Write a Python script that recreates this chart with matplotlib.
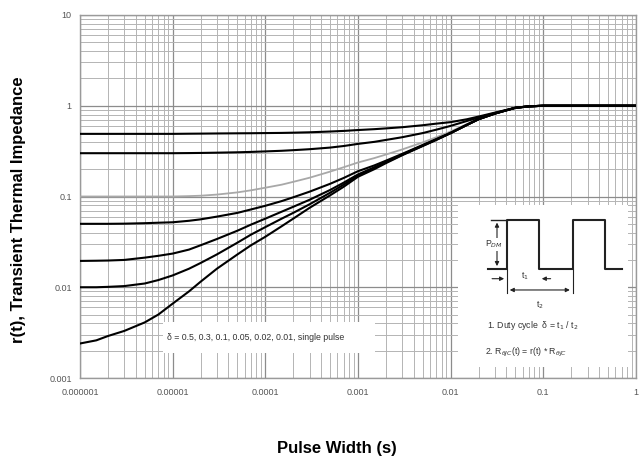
import matplotlib.pyplot as plt
import numpy as np
from matplotlib.patches import Rectangle

plt.rcParams['font.family'] = ['Liberation Sans', 'DejaVu Sans']

# pulse width (s)
t = [1e-6, 1.5e-6, 2e-6, 3e-6, 5e-6, 7e-6,
     1e-5, 1.5e-5, 2e-5, 3e-5, 5e-5, 7e-5,
     1e-4, 1.5e-4, 2e-4, 3e-4, 5e-4, 7e-4,
     1e-3, 1.5e-3, 2e-3, 3e-3, 5e-3, 7e-3,
     1e-2, 1.5e-2, 2e-2, 3e-2, 5e-2, 7e-2,
     0.1, 0.2, 0.5, 1.0]

# normalised transient thermal impedance r(t) for each duty cycle
r_d05 = [0.49, 0.49, 0.49, 0.49, 0.49, 0.49,
         0.49, 0.492, 0.493, 0.495, 0.497, 0.498,
         0.50, 0.502, 0.505, 0.51, 0.52, 0.528,
         0.54, 0.552, 0.563, 0.58, 0.61, 0.635,
         0.66, 0.71, 0.76, 0.84, 0.95, 0.985,
         1.0, 1.0, 1.0, 1.0]
r_d03 = [0.30, 0.30, 0.30, 0.30, 0.30, 0.30,
         0.30, 0.301, 0.302, 0.304, 0.307, 0.31,
         0.314, 0.319, 0.324, 0.332, 0.346, 0.36,
         0.38, 0.40, 0.42, 0.45, 0.50, 0.545,
         0.60, 0.68, 0.74, 0.83, 0.95, 0.985,
         1.0, 1.0, 1.0, 1.0]
r_d01 = [0.10, 0.10, 0.10, 0.10, 0.10, 0.10,
         0.100, 0.101, 0.102, 0.105, 0.111, 0.117,
         0.125, 0.135, 0.145, 0.161, 0.188, 0.21,
         0.237, 0.265, 0.29, 0.33, 0.395, 0.45,
         0.52, 0.63, 0.72, 0.82, 0.95, 0.985,
         1.0, 1.0, 1.0, 1.0]
r_d005 = [0.050, 0.050, 0.050, 0.0502, 0.0508, 0.0514,
          0.052, 0.054, 0.056, 0.060, 0.066, 0.072,
          0.079, 0.089, 0.098, 0.113, 0.138, 0.16,
          0.19, 0.22, 0.248, 0.295, 0.37, 0.43,
          0.505, 0.62, 0.715, 0.82, 0.95, 0.985,
          1.0, 1.0, 1.0, 1.0]
r_d002 = [0.0195, 0.0196, 0.0197, 0.020, 0.0212, 0.0222,
          0.0235, 0.026, 0.029, 0.034, 0.042, 0.049,
          0.057, 0.068, 0.077, 0.092, 0.118, 0.142,
          0.175, 0.21, 0.24, 0.29, 0.365, 0.425,
          0.50, 0.615, 0.71, 0.82, 0.95, 0.985,
          1.0, 1.0, 1.0, 1.0]
r_d001 = [0.0100, 0.0100, 0.0101, 0.0103, 0.0110, 0.0120,
          0.0135, 0.016, 0.0185, 0.023, 0.031, 0.038,
          0.046, 0.057, 0.066, 0.082, 0.11, 0.135,
          0.17, 0.205, 0.237, 0.288, 0.363, 0.423,
          0.50, 0.615, 0.71, 0.82, 0.95, 0.985,
          1.0, 1.0, 1.0, 1.0]
r_single = [0.0024, 0.0026, 0.0029, 0.0033, 0.0041, 0.0050,
            0.0066, 0.009, 0.0115, 0.016, 0.023, 0.029,
            0.036, 0.047, 0.057, 0.075, 0.103, 0.128,
            0.165, 0.2, 0.233, 0.285, 0.36, 0.42,
            0.50, 0.615, 0.71, 0.82, 0.95, 0.985,
            1.0, 1.0, 1.0, 1.0]

x_ticks = [1e-6, 1e-5, 1e-4, 1e-3, 1e-2, 1e-1, 1]
x_labels = ['0.000001', '0.00001', '0.0001', '0.001', '0.01', '0.1', '1']
y_ticks = [1e-3, 1e-2, 1e-1, 1, 10]
y_labels = ['0.001', '0.01', '0.1', '1', '10']

# square wave used in the duty cycle sketch (time in units of t1)
t1, t2 = 1.0, 2.05
wave_t = [-0.6, 0, 0, t1, t1, t2, t2, t2 + t1, t2 + t1, t2 + 1.55]
wave_p = [0, 0, 1, 1, 0, 0, 1, 1, 0, 0]

W, H = 644, 459
fig = plt.figure(figsize=(W / 100, H / 100), dpi=100)
ax = fig.add_axes([80 / W, 1 - 378 / H, 556 / W, 363 / H])

ax.set_xscale('log')
ax.set_yscale('log')
ax.set_xlim(1e-6, 1)
ax.set_ylim(1e-3, 10)

ax.grid(True, which='major', color='#8c8c8c', lw=0.9)
ax.grid(True, which='minor', color='#b4b4b4', lw=0.7)
for s in ax.spines.values():
    s.set_color('#9a9a9a')
    s.set_linewidth(1.0)

ax.set_xticks(x_ticks)
ax.set_xticklabels(x_labels)
ax.set_yticks(y_ticks)
ax.set_yticklabels(y_labels)
ax.tick_params(which='both', length=0, labelsize=6.5, colors='#555555')
ax.tick_params(axis='x', pad=7)
ax.tick_params(axis='y', pad=6)

for r in [r_d05, r_d03, r_d005, r_d002, r_d001, r_single]:
    ax.plot(t, r, color='black', lw=1.5, zorder=4)
ax.plot(t, r_d01, color='#a8a8a8', lw=1.3, zorder=3)

# white panels for the curve key and the notes
fig.add_artist(Rectangle((163 / W, 1 - 353 / H), 212 / W, 31 / H,
                         transform=fig.transFigure, facecolor='white',
                         edgecolor='none', zorder=1))
fig.add_artist(Rectangle((458 / W, 1 - 367 / H), 170 / W, 162 / H,
                         transform=fig.transFigure, facecolor='white',
                         edgecolor='none', zorder=1))

fig.text(167 / W, 1 - 337 / H,
         'δ = 0.5, 0.3, 0.1, 0.05, 0.02, 0.01, single pulse',
         fontsize=6.3, color='#333333', va='center', ha='left', zorder=3)

# duty cycle sketch
ins = fig.add_axes([472 / W, 1 - 315 / H, 158 / W, 105 / H], zorder=5)
ins.set_xlim(-1.09, 3.84)
ins.set_ylim(-0.94, 1.2)
ins.axis('off')
ins.plot(wave_t, wave_p, color='#222222', lw=1.5)
ins.plot([-0.5, 0], [1, 1], color='#222222', lw=1.0)
ins.plot([0, 0], [0, -0.5], color='#222222', lw=0.8)
ins.plot([t2, t2], [0, -0.5], color='#222222', lw=0.8)
arrow = dict(arrowstyle='-|>', color='#222222', lw=0.8, mutation_scale=6)
darrow = dict(arrowstyle='<|-|>', color='#222222', lw=0.8, mutation_scale=6)
ins.annotate('', xy=(-0.31, 1), xytext=(-0.31, 0), arrowprops=darrow)
ins.text(-0.42, 0.5, 'P$_{DM}$', fontsize=6.3, color='#333333', ha='center', va='center',
         bbox=dict(facecolor='white', edgecolor='none', pad=0.5))
ins.annotate('', xy=(0, -0.2), xytext=(-0.55, -0.2), arrowprops=arrow)
ins.annotate('', xy=(t1, -0.2), xytext=(t1 + 0.45, -0.2), arrowprops=arrow)
ins.text(0.56, -0.16, 't$_1$', fontsize=6.3, color='#333333', ha='center', va='center')
ins.annotate('', xy=(t2, -0.43), xytext=(0, -0.43), arrowprops=darrow)
ins.text(1.03, -0.75, 't$_2$', fontsize=6.3, color='#333333', ha='center', va='center')

fig.text(487 / W, 1 - 326 / H, '1. Duty cycle  δ = t$_1$ / t$_2$',
         fontsize=6.3, color='#333333', va='center', ha='left', zorder=3)
fig.text(485 / W, 1 - 352 / H, r'2. R$_{\theta JC}$(t) = r(t) * R$_{\theta JC}$',
         fontsize=6.3, color='#333333', va='center', ha='left', zorder=3)

fig.text(19 / W, 1 - 210 / H, 'r(t), Transient Thermal Impedance', rotation=90,
         fontsize=12, fontweight='bold', ha='center', va='center')
fig.text(337 / W, 1 - 448 / H, 'Pulse Width (s)',
         fontsize=12, fontweight='bold', ha='center', va='center')

fig.savefig('out.png', dpi=100)
